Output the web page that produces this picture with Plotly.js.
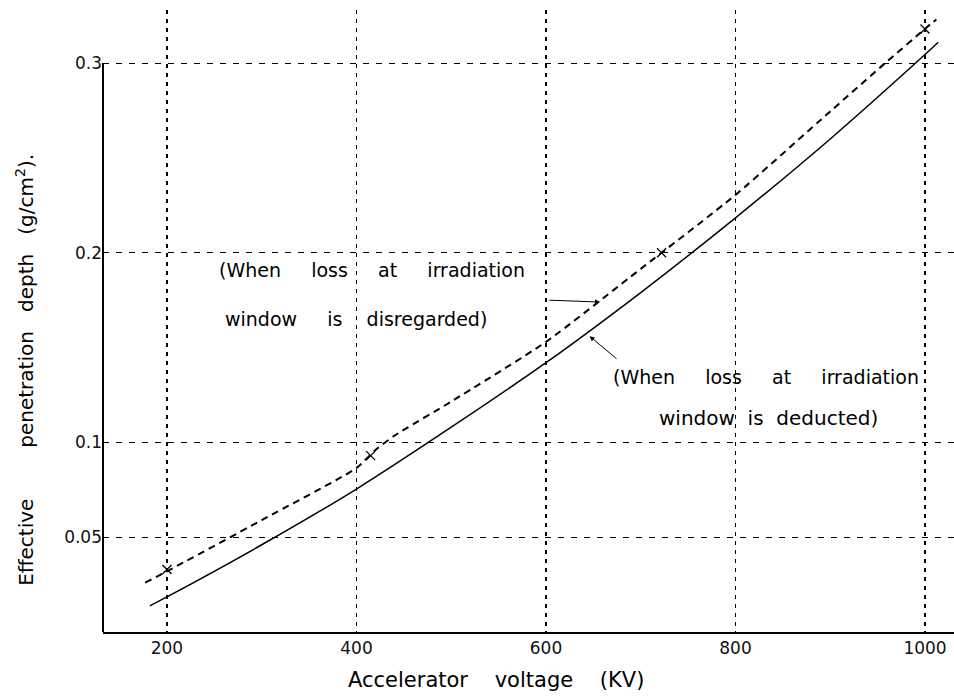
<!DOCTYPE html>
<html>
<head>
<meta charset="utf-8">
<script src="https://cdn.plot.ly/plotly-3.0.1.min.js"></script>
<style>html,body{margin:0;padding:0;background:#fff;}#chart{width:954px;height:697px;}</style>
</head>
<body>
<div id="chart"></div>
<script>
// Accelerator voltage (kV) and effective penetration depth (g/cm^2)
const disregardedKV  = [177, 200, 300, 400, 420, 440, 500, 600, 700, 800, 900, 958, 1000, 1012];
const disregardedVal = [0.026, 0.032, 0.059, 0.0865, 0.096, 0.1035, 0.1215, 0.153, 0.1915, 0.2305, 0.2745, 0.300, 0.318, 0.323];

const deductedKV  = [182, 200, 300, 400, 500, 600, 700, 800, 900, 1000, 1014];
const deductedVal = [0.0138, 0.0185, 0.046, 0.0754, 0.108, 0.142, 0.179, 0.2184, 0.260, 0.3045, 0.311];

const crossMarkKV  = [200, 415, 722, 1000];
const crossMarkVal = [0.033, 0.093, 0.2, 0.318];

const xTickVals = [200, 400, 600, 800, 1000];
const xTickText = ['200', '400', '600', '800', '1000'];
const yTickVals = [0.05, 0.1, 0.2, 0.3];
const yTickText = ['0.05', '0.1', '0.2', '0.3'];

const font = 'DejaVu Sans, sans-serif';

const traces = [
  {x: deductedKV, y: deductedVal, mode: 'lines', line: {color: '#000', width: 1.5, shape: 'spline', smoothing: 0.8}, hoverinfo: 'skip'},
  {x: disregardedKV, y: disregardedVal, mode: 'lines', line: {color: '#000', width: 2, dash: '7px,5px', shape: 'spline', smoothing: 0.6}, hoverinfo: 'skip'},
  {x: crossMarkKV, y: crossMarkVal, mode: 'markers', marker: {symbol: 'x-thin', size: 9, line: {color: '#000', width: 1.3}}, hoverinfo: 'skip'}
];

const layout = {
  width: 954, height: 697,
  margin: {l: 103, r: 0, t: 10, b: 65},
  paper_bgcolor: '#fff', plot_bgcolor: '#fff',
  showlegend: false,
  font: {family: font, color: '#000'},
  xaxis: {
    range: [132.5, 1030.6],
    tickvals: xTickVals, ticktext: xTickText,
    showgrid: true, gridcolor: '#000', gridwidth: 1.7, griddash: '4px,5px',
    zeroline: false, showline: true, linecolor: '#000', linewidth: 1.5,
    ticks: '', tickfont: {size: 17, family: font, color: '#111'}
  },
  yaxis: {
    range: [0, 0.328],
    tickvals: yTickVals, ticktext: yTickText,
    showgrid: true, gridcolor: '#000', gridwidth: 1.2, griddash: '6px,7px',
    zeroline: false, showline: false,
    ticks: '', tickfont: {size: 17, family: font, color: '#111'}
  },
  shapes: [
    {type: 'line', xref: 'paper', x0: 0, x1: 0, yref: 'y', y0: 0, y1: Math.max(...yTickVals), line: {color: '#000', width: 2}}
  ],
  annotations: [
    {text: 'Accelerator    voltage    (KV)', xref: 'paper', yref: 'paper', x: 0.462, y: -0.077, xanchor: 'center', yanchor: 'middle', showarrow: false, font: {size: 21, family: font}},
    {text: 'Effective        penetration   depth   (g/cm<sup>2</sup>).', xref: 'paper', yref: 'paper', x: -0.092, y: 0.421, xanchor: 'center', yanchor: 'middle', textangle: -90, showarrow: false, font: {size: 20, family: font}},
    {text: '(When     loss     at     irradiation', xref: 'x', yref: 'y', x: 253, y: 0.191, xanchor: 'left', yanchor: 'middle', showarrow: false, font: {size: 19, family: font}},
    {text: 'window     is    disregarded)', xref: 'x', yref: 'y', x: 259, y: 0.165, xanchor: 'left', yanchor: 'middle', showarrow: false, font: {size: 19, family: font}},
    {text: '(When     loss     at     irradiation', xref: 'x', yref: 'y', x: 669, y: 0.1346, xanchor: 'left', yanchor: 'middle', showarrow: false, font: {size: 19, family: font}},
    {text: 'window  is  deducted)', xref: 'x', yref: 'y', x: 717, y: 0.113, xanchor: 'left', yanchor: 'middle', showarrow: false, font: {size: 20, family: font}},
    {text: '', x: 657, y: 0.174, xref: 'x', yref: 'y', ax: 602, ay: 0.175, axref: 'x', ayref: 'y', showarrow: true, arrowhead: 2, arrowsize: 1, arrowwidth: 1, arrowcolor: '#000'},
    {text: '', x: 646, y: 0.156, xref: 'x', yref: 'y', ax: 676, ay: 0.1435, axref: 'x', ayref: 'y', showarrow: true, arrowhead: 2, arrowsize: 1, arrowwidth: 1, arrowcolor: '#000'}
  ]
};

Plotly.newPlot('chart', traces, layout, {displayModeBar: false, staticPlot: true});
</script>
</body>
</html>
